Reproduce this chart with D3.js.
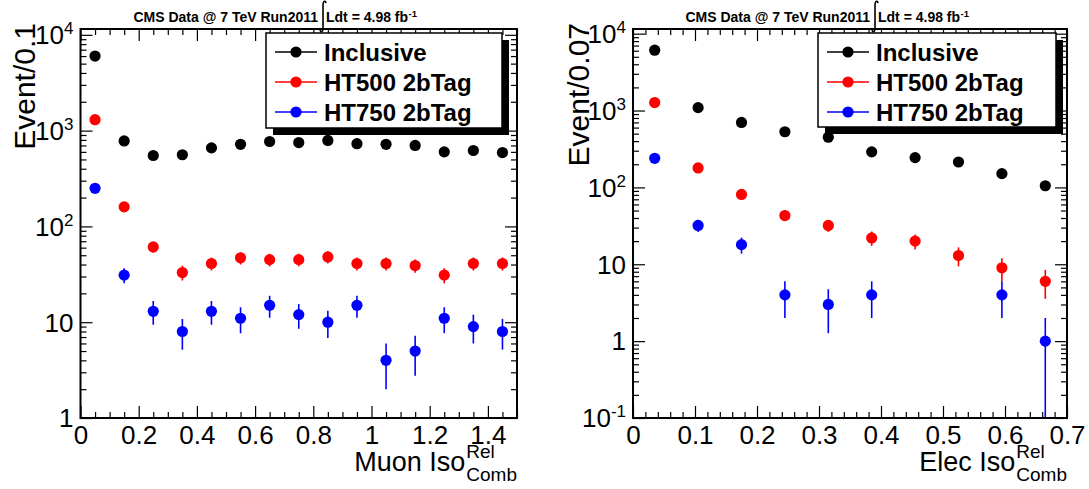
<!DOCTYPE html>
<html><head><meta charset="utf-8">
<script src="https://cdn.jsdelivr.net/npm/d3@7"></script>
<style>
html,body{margin:0;padding:0;background:#fff;}
svg text{font-family:"Liberation Sans", Arial, Helvetica, sans-serif;}
</style></head><body><svg id="c" width="1089" height="489"></svg>
<script>
const seriesNames = ["Inclusive", "HT500 2bTag", "HT750 2bTag"];
const seriesColors = ["#000000", "#ff0000", "#0000ff"];

const muonBins = [0.05, 0.15, 0.25, 0.35, 0.45, 0.55, 0.65, 0.75, 0.85, 0.95, 1.05, 1.15, 1.25, 1.35, 1.45];
const muonInclusive = [6000, 780, 550, 560, 660, 720, 770, 750, 790, 730, 720, 700, 600, 620, 590];
const muonHT500 = [1300, 160, 61, 33, 41, 47, 45, 45, 48, 41, 41, 39, 31, 41, 41];
const muonHT750 = [250, 31, 13, 8, 13, 11, 15, 12, 10, 15, 4, 5, 11, 9, 8];

const elecBins = [0.035, 0.105, 0.175, 0.245, 0.315, 0.385, 0.455, 0.525, 0.595, 0.665];
const elecInclusive = [6100, 1090, 700, 530, 450, 290, 244, 214, 151, 105];
const elecHT500 = [1270, 179, 81, 43, 32, 22, 20, 13, 9, 6];
const elecHT750 = [239, 32, 18, 4, 3, 4, null, null, 4, 1];

const muonXTicks = [0, 0.2, 0.4, 0.6, 0.8, 1, 1.2, 1.4];
const muonXTickLabels = ["0", "0.2", "0.4", "0.6", "0.8", "1", "1.2", "1.4"];
const muonYTicks = [1, 10, 100, 1000, 10000];
const muonYTickLabels = [["1", ""], ["10", ""], ["10", "2"], ["10", "3"], ["10", "4"]];

const elecXTicks = [0, 0.1, 0.2, 0.3, 0.4, 0.5, 0.6, 0.7];
const elecXTickLabels = ["0", "0.1", "0.2", "0.3", "0.4", "0.5", "0.6", "0.7"];
const elecYTicks = [0.1, 1, 10, 100, 1000, 10000];
const elecYTickLabels = [["10", "-1"], ["1", ""], ["10", ""], ["10", "2"], ["10", "3"], ["10", "4"]];

const titleMain = "CMS Data @ 7 TeV Run2011";
const titleLumi = "Ldt = 4.98 fb";
const titleLumiSup = "-1";

const panels = [
  { bins: muonBins, series: [muonInclusive, muonHT500, muonHT750],
    xDomain: [0, 1.5], yDomain: [1, 1.15e4], xMinorStep: 0.05,
    xTicks: muonXTicks, xTickLabels: muonXTickLabels, yTicks: muonYTicks, yTickLabels: muonYTickLabels,
    frame: { l: 80.5, r: 517, t: 29, b: 418 },
    yTitle: "Event/0.1", yTitleX: 35, xTitle: "Muon Iso",
    legend: { l: 266, t: 33, w: 236, h: 95 }, titleCx: 275 },
  { bins: elecBins, series: [elecInclusive, elecHT500, elecHT750],
    xDomain: [0, 0.7], yDomain: [0.1, 1.15e4], xMinorStep: 0.02,
    xTicks: elecXTicks, xTickLabels: elecXTickLabels, yTicks: elecYTicks, yTickLabels: elecYTickLabels,
    frame: { l: 633, r: 1067, t: 29, b: 418 },
    yTitle: "Event/0.07", yTitleX: 589, xTitle: "Elec Iso",
    legend: { l: 818, t: 33, w: 238, h: 94 }, titleCx: 827 }
];

const svg = d3.select("#c");
svg.append("rect").attr("width", 1089).attr("height", 489).attr("fill", "#fff");

panels.forEach((p, pi) => {
  const f = p.frame;
  const x = d3.scaleLinear().domain(p.xDomain).range([f.l, f.r]);
  const y = d3.scaleLog().domain(p.yDomain).range([f.b, f.t]);
  const g = svg.append("g");
  const MAJ = 12, MIN = 6;

  const xMinor = d3.range(p.xDomain[0], p.xDomain[1] + 1e-9, p.xMinorStep)
    .filter(v => !p.xTicks.some(t => Math.abs(t - v) < 1e-6));
  const yMinor = [];
  for (let e = Math.floor(Math.log10(p.yDomain[0])); e <= Math.ceil(Math.log10(p.yDomain[1])); e++) {
    for (let k = 2; k <= 9; k++) {
      const v = k * Math.pow(10, e);
      if (v > p.yDomain[0] && v < p.yDomain[1]) yMinor.push(v);
    }
  }

  function ax(axisFn, scale, vals, size, transform) {
    g.append("g").attr("transform", transform)
      .call(axisFn(scale).tickValues(vals).tickSize(-size).tickFormat(""))
      .call(s => s.select(".domain").remove())
      .call(s => s.selectAll("line").attr("stroke", "#000").attr("stroke-width", 1.2));
  }
  ax(d3.axisBottom, x, xMinor, MIN, `translate(0,${f.b})`);
  ax(d3.axisTop, x, p.xTicks, MAJ, `translate(0,${f.t})`);
  ax(d3.axisTop, x, xMinor, MIN, `translate(0,${f.t})`);
  ax(d3.axisLeft, y, p.yTicks, MAJ, `translate(${f.l},0)`);
  ax(d3.axisLeft, y, yMinor, MIN, `translate(${f.l},0)`);
  ax(d3.axisRight, y, p.yTicks, MAJ, `translate(${f.r},0)`);
  ax(d3.axisRight, y, yMinor, MIN, `translate(${f.r},0)`);

  // bottom major axis with labels
  g.append("g").attr("transform", `translate(0,${f.b})`)
    .call(d3.axisBottom(x).tickValues(p.xTicks).tickSize(-MAJ).tickPadding(8)
      .tickFormat((d, i) => p.xTickLabels[i]))
    .call(s => s.select(".domain").remove())
    .call(s => s.selectAll("line").attr("stroke", "#000").attr("stroke-width", 1.2))
    .call(s => s.selectAll("text").attr("fill", "#000").attr("font-size", 26)
      .attr("font-family", '"Liberation Sans", Arial, sans-serif'));

  // y tick labels with exponents
  const yl = g.append("g").selectAll("text").data(p.yTicks).join("text")
    .attr("text-anchor", "end").attr("y", d => y(d)).attr("dy", "0.36em")
    .attr("x", f.l - 7).attr("font-size", 26).attr("fill", "#000");
  yl.each(function (d, i) {
    const lab = p.yTickLabels[i];
    const t = d3.select(this);
    t.append("tspan").text(lab[0]);
    if (lab[1]) t.append("tspan").attr("font-size", 17).attr("dy", "-0.6em").text(lab[1]);
  });

  // data
  const clipId = "clip" + pi;
  svg.append("clipPath").attr("id", clipId).append("rect")
    .attr("x", f.l).attr("y", f.t).attr("width", f.r - f.l).attr("height", f.b - f.t);
  const dg = g.append("g").attr("clip-path", `url(#${clipId})`);
  p.series.forEach((vals, si) => {
    const pts = p.bins.map((b, i) => ({ b, v: vals[i] })).filter(d => d.v != null && d.v > 0);
    dg.append("g").selectAll("line").data(pts).join("line")
      .attr("x1", d => x(d.b)).attr("x2", d => x(d.b))
      .attr("y1", d => { const lo = d.v - Math.sqrt(d.v); return lo > 0 ? y(lo) : y.range()[0] + 2; })
      .attr("y2", d => y(d.v + Math.sqrt(d.v)))
      .attr("stroke", seriesColors[si]).attr("stroke-width", 1.6);
    dg.append("g").selectAll("circle").data(pts).join("circle")
      .attr("cx", d => x(d.b)).attr("cy", d => y(d.v)).attr("r", 5.6)
      .attr("fill", seriesColors[si]);
  });

  // frame
  g.append("rect").attr("x", f.l).attr("y", f.t).attr("width", f.r - f.l).attr("height", f.b - f.t)
    .attr("fill", "none").attr("stroke", "#000").attr("stroke-width", 2);

  // legend
  const L = p.legend;
  g.append("rect").attr("x", L.l + 7).attr("y", L.t + 7).attr("width", L.w).attr("height", L.h).attr("fill", "#000");
  g.append("rect").attr("x", L.l).attr("y", L.t).attr("width", L.w).attr("height", L.h)
    .attr("fill", "#fff").attr("stroke", "#000").attr("stroke-width", 1.5);
  const le = g.append("g").selectAll("g").data(seriesNames).join("g")
    .attr("transform", (d, i) => `translate(${L.l},${L.t + 19 + i * 30})`);
  le.append("line").attr("x1", 9).attr("x2", 51).attr("stroke", (d, i) => seriesColors[i]).attr("stroke-width", 1.5);
  le.append("circle").attr("cx", 30).attr("r", 5.6).attr("fill", (d, i) => seriesColors[i]);
  le.append("text").attr("x", 58).attr("dy", "0.36em").attr("font-size", 24).attr("font-weight", "bold")
    .attr("fill", "#000").text(d => d);

  // axis titles
  g.append("text").attr("transform", `translate(${p.yTitleX},${f.t - 6}) rotate(-90)`)
    .attr("text-anchor", "end").attr("font-size", 30).attr("fill", "#000").text(p.yTitle);

  const comb = g.append("text").attr("font-size", 19).attr("fill", "#000").text("Comb").attr("y", 481);
  const cw = comb.node().getComputedTextLength();
  comb.attr("x", f.r - cw);
  g.append("text").attr("font-size", 19).attr("fill", "#000").text("Rel").attr("x", f.r - cw).attr("y", 458);
  g.append("text").attr("font-size", 27).attr("fill", "#000").attr("text-anchor", "end")
    .attr("x", f.r - cw - 1).attr("y", 471).text(p.xTitle);

  // title
  const tg = g.append("g").attr("font-weight", "bold").attr("fill", "#000");
  const t1 = tg.append("text").attr("font-size", 14).attr("y", 22).text(titleMain);
  const t2 = tg.append("text").attr("font-size", 14).attr("y", 22).text(titleLumi);
  const t3 = tg.append("text").attr("font-size", 9.5).attr("y", 16.5).text(titleLumiSup);
  const w1 = t1.node().getComputedTextLength(), w2 = t2.node().getComputedTextLength(), w3 = t3.node().getComputedTextLength();
  const intW = 8;
  const total = w1 + intW + w2 + w3;
  const x0 = p.titleCx - total / 2;
  t1.attr("x", x0);
  const ix = x0 + w1 + 3;
  tg.append("path")
    .attr("d", `M${ix + 5},3 C${ix + 4},0 ${ix + 2},1 ${ix + 2},5 L${ix + 2},28 C${ix + 2},32 ${ix},33 ${ix - 1},30`)
    .attr("fill", "none").attr("stroke", "#000").attr("stroke-width", 1.6);
  t2.attr("x", x0 + w1 + intW);
  t3.attr("x", x0 + w1 + intW + w2 + 0.5);
});
</script></body></html>
